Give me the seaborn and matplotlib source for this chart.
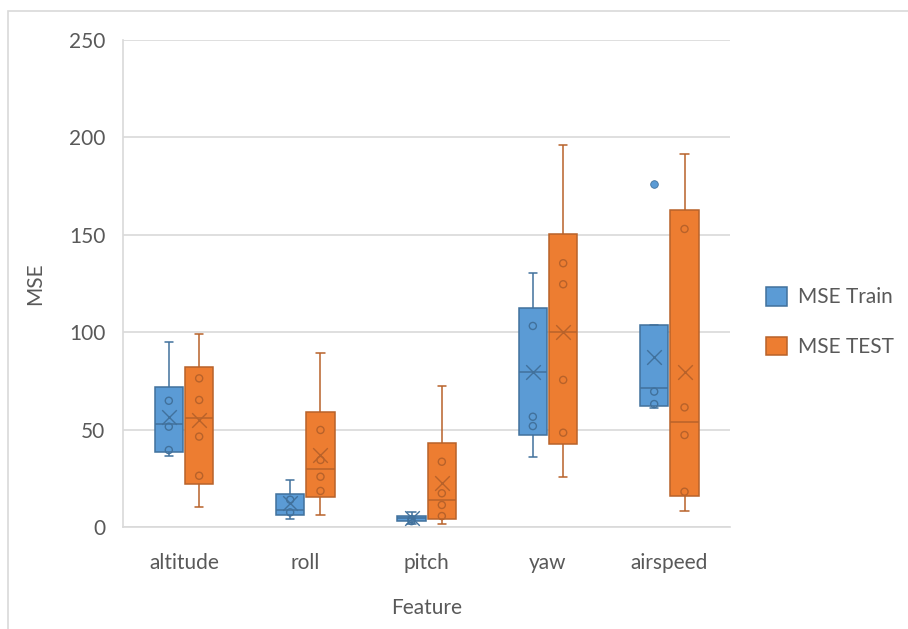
import numpy as np
import pandas as pd
import matplotlib
matplotlib.use("Agg")
import matplotlib.pyplot as plt
from matplotlib.patches import Patch, Rectangle
import seaborn as sns

# values
features = ["altitude", "roll", "pitch", "yaw", "airspeed"]
series = ["MSE Train", "MSE TEST"]

train_low = [36.4, 4.1, 1.4, 36.1, 61.2]
train_q1 = [38.3, 6.2, 3.1, 47.2, 62.3]
train_med = [52.9, 8.7, 4.5, 79.5, 71.2]
train_q3 = [72.0, 16.9, 5.8, 112.3, 103.7]
train_high = [95.1, 24.1, 7.5, 130.2, 103.7]
train_mean = [56.6, 12.2, 4.4, 79.7, 87.4]
train_points = [[64.8, 51.5, 39.5], [14.0, 7.5], [4.0, 3.0], [103.2, 56.6, 51.8], [69.5, 63.1]]
train_outliers = [[], [], [], [], [176.2]]

test_low = [10.4, 6.2, 1.4, 25.8, 8.4]
test_q1 = [22.1, 15.2, 4.1, 42.6, 15.9]
test_med = [55.8, 29.8, 13.9, 100.3, 54.1]
test_q3 = [82.0, 59.2, 43.3, 150.4, 162.7]
test_high = [99.1, 89.2, 72.4, 196.1, 191.3]
test_mean = [54.9, 37.0, 22.4, 100.0, 79.4]
test_points = [[76.3, 65.2, 46.4, 26.3], [49.8, 34.4, 25.8, 18.5], [33.5, 17.3, 11.3, 5.6],
               [135.4, 124.6, 75.5, 48.4], [153.0, 61.4, 47.2, 18.1]]
test_outliers = [[], [], [], [], []]

fills = ["#5B9BD5", "#ED7D31"]
edges = ["#41719C", "#B8622A"]

stats = {
    "MSE Train": (train_low, train_q1, train_med, train_q3, train_high),
    "MSE TEST": (test_low, test_q1, test_med, test_q3, test_high),
}
rows = []
for name, cols in stats.items():
    for i, feat in enumerate(features):
        for col in cols:
            rows.append({"Feature": feat, "MSE": col[i], "Series": name})
df = pd.DataFrame(rows)

sns.set_style("white")
plt.rcParams["font.family"] = ["Lato", "DejaVu Sans"]
text_col = "#595959"
grid_col = "#D9D9D9"

fig = plt.figure(figsize=(9.08, 6.29), dpi=100)
ax = fig.add_axes([0.1358, 0.1622, 0.6682, 0.7742])

sns.boxplot(data=df, x="Feature", y="MSE", hue="Series", order=features, hue_order=series,
            palette=dict(zip(series, fills)), saturation=1, width=0.5, gap=0.06,
            whis=(0, 100), linewidth=1.1, capwidths=0.07, ax=ax, zorder=3)

for cont, edge in zip(ax.containers, edges):
    for box in cont.boxes:
        box.set_edgecolor(edge)
    for line in list(cont.whiskers) + list(cont.caps) + list(cont.medians):
        line.set_color(edge)
        line.set_linewidth(1.1)

offsets = [-0.125, 0.125]
groups = [(train_points, train_mean, train_outliers), (test_points, test_mean, test_outliers)]
for k, (pts, means, outs) in enumerate(groups):
    for i in range(len(features)):
        x = i + offsets[k]
        ax.scatter([x] * len(pts[i]), pts[i], s=26, facecolors="none",
                   edgecolors=edges[k], linewidths=1.0, zorder=4)
        ax.scatter([x], [means[i]], s=110, marker="x", color=edges[k], linewidths=1.0, zorder=4)
        if outs[i]:
            ax.scatter([x] * len(outs[i]), outs[i], s=30, color=fills[k],
                       edgecolors=edges[k], linewidths=0.6, zorder=4)

ax.set_ylim(0, 250)
ax.set_xlim(-0.5, len(features) - 0.5)
ax.set_yticks(np.arange(0, 251, 50))
ax.yaxis.grid(True, color=grid_col, linewidth=1.2)
ax.set_axisbelow(True)
for side in ["top", "right"]:
    ax.spines[side].set_visible(False)
for side in ["left", "bottom"]:
    ax.spines[side].set_color(grid_col)
    ax.spines[side].set_linewidth(1.2)
ax.tick_params(axis="both", length=0, labelsize=15, colors=text_col)
ax.tick_params(axis="y", pad=13)
ax.tick_params(axis="x", pad=19)
ax.set_xlabel("Feature", fontsize=15, color=text_col, labelpad=18)
ax.set_ylabel("MSE", fontsize=15, color=text_col, labelpad=17)

handles = [Patch(facecolor=f, edgecolor=e, linewidth=1.1) for f, e in zip(fills, edges)]
ax.legend(handles=handles, labels=series, loc="center left", bbox_to_anchor=(1.059, 0.421),
          frameon=False, fontsize=15, labelcolor=text_col, handlelength=1.0, handleheight=1.0,
          handletextpad=0.55, labelspacing=1.4, borderpad=0, borderaxespad=0)

# outer chart border as in the spreadsheet export
fig.add_artist(Rectangle((8.3 / 908, -0.1), 1.2, 1 - 10.7 / 629 + 0.1, transform=fig.transFigure,
                         fill=False, edgecolor=grid_col, linewidth=1.2))

fig.savefig("out.png", dpi=100, facecolor="white")
